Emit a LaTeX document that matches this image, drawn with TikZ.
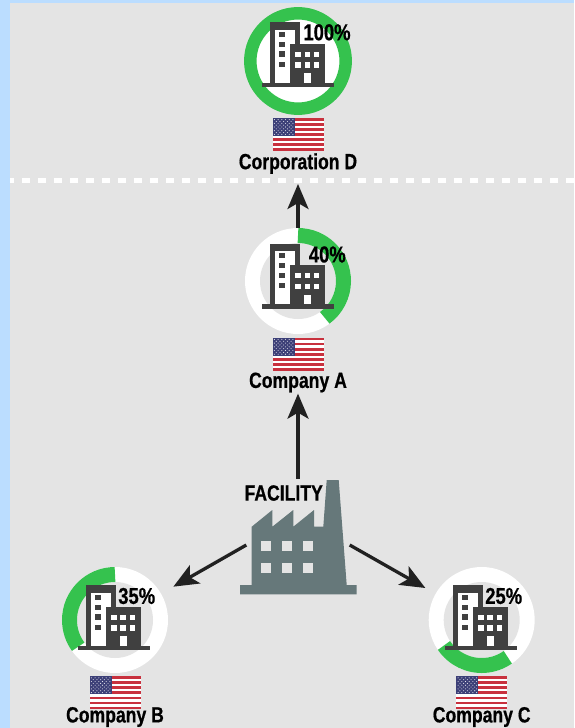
\documentclass[tikz,border=0pt]{standalone}
\usepackage{fontspec}
\setmainfont{Liberation Sans}[FakeStretch=0.8, BoldFeatures={FakeBold=0.6}]
\usetikzlibrary{arrows.meta}

\definecolor{sky}{HTML}{BBDDFF}
\definecolor{panel}{HTML}{E4E4E4}
\definecolor{stake}{HTML}{35C24E}
\definecolor{tower}{HTML}{404040}
\definecolor{plant}{HTML}{66787A}
\definecolor{flagred}{HTML}{C8313E}
\definecolor{flagblue}{HTML}{3C3F77}

\tikzset{
    ring/.style={circle, fill=white, minimum size=106pt, inner sep=0pt},
    share/.style={stake, line width=15pt},
    pct/.style={font=\bfseries\fontsize{23}{23}\selectfont, inner sep=0pt},
    firm/.style={font=\bfseries\fontsize{22}{22}\selectfont, inner sep=1pt},
    link/.style={line width=3.3pt, color=black!87, -{Stealth[length=25pt, width=21pt, inset=6pt]}},
    flag/.style={rectangle, fill=white, minimum width=51pt, minimum height=33pt, inner sep=0pt},
}

% building icon, placed by the middle of its base bar
\newcommand{\buildingat}[2]{
    \begin{scope}[xshift=#1pt, yshift=#2pt]
        \fill[tower] (-35.7,-2.3) rectangle (35.7,2.3);
        \fill[tower] (-28.3,0) rectangle (1.7,62.7);
        \fill[white] (-23.3,2.3) rectangle (-3.3,55);
        \fill[tower] (-8.3,0) rectangle (27,41);
        \foreach \wy in {20.7,31,40.7,50.7}
            \fill[tower] (-19,\wy-2.7) rectangle (-13.3,\wy+2.7);
        \foreach \wx in {0,9.2,18.4}
            \foreach \wy in {20,30.6}
                \fill[white] (\wx-2.7,\wy-2.7) rectangle (\wx+2.7,\wy+2.7);
        \fill[white] (5.7,2.3) rectangle (13,11.7);
    \end{scope}
}

% flag drawn over a named node
\newcommand{\flagat}[3]{
    \node[flag] (#1) at (#2,#3) {};
    \begin{scope}[xshift=#2pt, yshift=#3pt]
        \foreach \s in {0,2,...,12}
            \fill[flagred] (-25.5,16.5-\s*2.54) rectangle (25.5,16.5-\s*2.54-2.54);
        \fill[flagblue] (-25.5,16.5) rectangle (-3.4,-1.3);
        \foreach \r in {0,2,...,8}
            \foreach \c in {0,...,5}
                \fill[white!85!flagblue] (-23.6+\c*3.7,14.9-\r*1.85) circle (0.55);
        \foreach \r in {1,3,...,7}
            \foreach \c in {0,...,4}
                \fill[white!85!flagblue] (-21.75+\c*3.7,14.9-\r*1.85) circle (0.55);
    \end{scope}
}

\begin{document}
\begin{tikzpicture}[x=1pt, y=1pt]
    \useasboundingbox (0,0) rectangle (574,-728);
    \fill[sky] (0,0) rectangle (574,-728);
    \fill[panel] (10,-3.3) rectangle (574,-728);

    % Dashed divider
    \draw[white, line width=5pt, dash pattern=on 8.3pt off 7.7pt, dash phase=4pt] (10,-180.5) -- (574,-180.5);
    \coordinate (divider) at (298,-184);

    % Corporation D
    \node[ring] (ringD) at (298,-61) {};
    \draw[stake, line width=12.5pt] (ringD.center) circle (47.7);
    \buildingat{298}{-85}
    \node[pct] (pctD) at (327,-32.3) {100\%};
    \flagat{flagD}{298}{-134.5}
    \node[firm] (nameD) at (298,-163.5) {Corporation D};

    % Company A
    \node[ring] (ringA) at (298,-281) {};
    \fill[panel] (ringA.center) circle (38);
    \draw[share] (298,-235.5) arc[start angle=90, end angle=-54, radius=45.5pt];
    \buildingat{298}{-306.3}
    \node[pct] (pctA) at (327.3,-254.5) {40\%};
    \flagat{flagA}{298}{-354.3}
    \node[firm] (nameA) at (298,-382.5) {Company A};

    % Company B
    \node[ring] (ringB) at (115,-620) {};
    \fill[panel] (ringB.center) circle (38);
    \draw[share] (115,-574.5) arc[start angle=90, end angle=216, radius=45.5pt];
    \buildingat{113.8}{-648}
    \node[pct] (pctB) at (136.7,-596) {35\%};
    \flagat{flagB}{115}{-692.7}
    \node[firm] (nameB) at (115,-717) {Company B};

    % Company C
    \node[ring] (ringC) at (481.7,-620) {};
    \fill[panel] (ringC.center) circle (38);
    \draw[share] (481.7,-620) ++(214:45.5) arc[start angle=214, end angle=305, radius=45.5pt];
    \buildingat{480.8}{-648}
    \node[pct] (pctC) at (503.7,-596) {25\%};
    \flagat{flagC}{481.7}{-692.7}
    \node[firm] (nameC) at (481.7,-717) {Company C};

    % Facility
    \node[minimum width=103pt, minimum height=132pt, inner sep=0pt] (factory) at (298,-545) {};
    \fill[plant] (240,-594.3) -- (240,-585) -- (251.7,-585) -- (251.7,-526.7)
        -- (272.3,-510) -- (272.3,-526.7) -- (293.3,-510) -- (293.3,-526.7)
        -- (314,-510) -- (314,-526.7) -- (323.3,-526.7) -- (326.7,-480)
        -- (338.7,-480) -- (346.7,-585) -- (356.7,-585) -- (356.7,-594.3) -- cycle;
    \foreach \wx in {266.3,287.3,308}
        \foreach \wy in {-545.7,-567.7}
            \fill[panel] (\wx-5,\wy-5) rectangle (\wx+5,\wy+5);
    \node[firm, inner sep=0pt] (facility) at (283.7,-493) {FACILITY};

    % Draw the ownership arrows
    \draw[link] (ringA.north) -- (divider);
    \draw[link] (factory.north) -- (nameA.south);
    \draw[link, shorten >=14pt] (factory.west) -- (ringB);
    \draw[link, shorten >=11.6pt] (factory.east) -- (ringC);
\end{tikzpicture}
\end{document}
